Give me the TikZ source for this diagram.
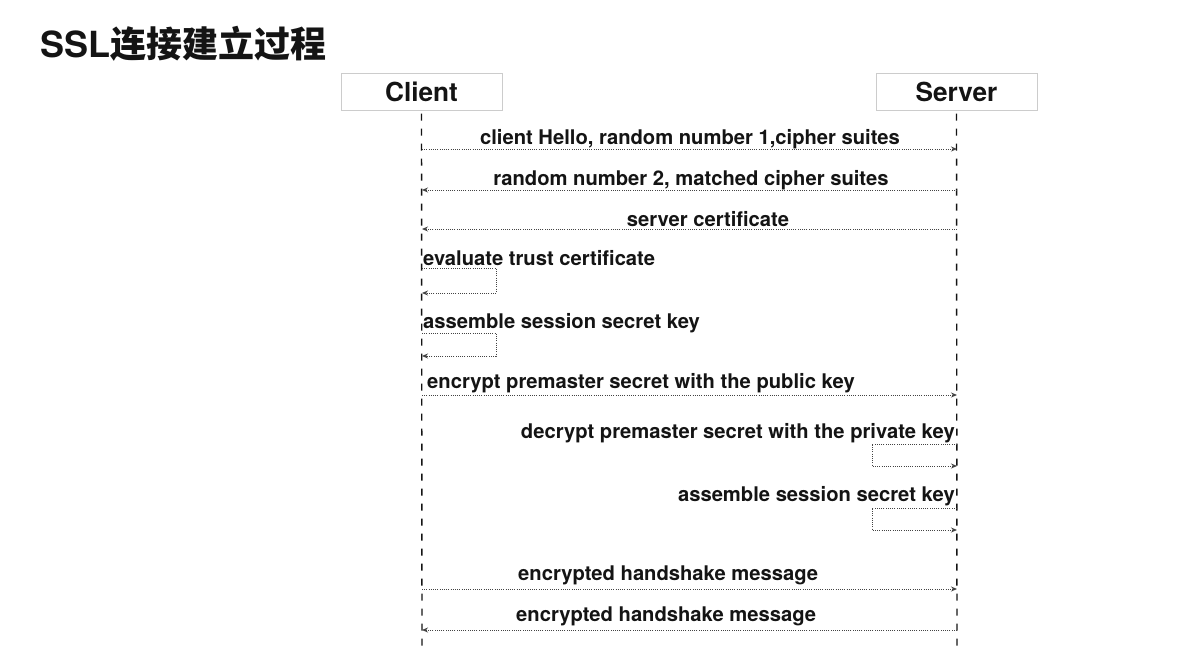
\documentclass[tikz,border=0pt]{standalone}
\usepackage{fontspec}
\setmainfont{TeX Gyre Heros}
\newfontfamily\cjkfont{Noto Sans CJK SC}
\usetikzlibrary{arrows.meta}
\definecolor{ink}{HTML}{141414}
\definecolor{boxline}{HTML}{CCCCCC}
\definecolor{msgline}{HTML}{444444}
\begin{document}
\begin{tikzpicture}[x=1pt,y=-1pt,
  actor/.style={draw=boxline,line width=1pt,minimum width=161pt,minimum height=37pt,
    inner sep=0pt,text=ink,font=\fontsize{26.2}{28}\selectfont\bfseries},
  lifeline/.style={draw=ink,line width=1.4pt,dash pattern=on 7pt off 8pt},
  msg/.style={draw=msgline,line width=0.9pt,dash pattern=on 1pt off 1.2pt,
    -{Stealth[length=6pt,width=5pt]}},
  lbl/.style={text=ink,inner sep=0pt,font=\fontsize{20.2}{22}\selectfont\bfseries}]
\useasboundingbox[fill=white] (0,0) rectangle (1200,656);

% title
\node[anchor=west,inner sep=0pt,text=ink] (title) at (40,44)
  {\fontsize{36}{40}\selectfont\bfseries SSL{\cjkfont\bfseries 连接建立过程}};

% participants
\node[actor] (client) at (421.5,91.5) {Client};
\node[actor] (server) at (956.5,91.5) {Server};

% lifeline ends
\coordinate (cend) at (422,650);
\coordinate (send) at (957,650);
\draw[lifeline] (client.south) ++(0,3) -- (cend);
\draw[lifeline] (server.south) ++(0,3) -- (send);

% message anchor points on the lifelines
\foreach \n/\y in {1/149,2/190,3/229,4a/268,4b/293,5a/333,5b/356,6/395,9/589,10/630}{
  \coordinate (c\n) at (422,\y);
}
\foreach \n/\y in {1/149,2/190,3/229,6/395,7a/444,7b/466,8a/508,8b/530,9/589,10/630}{
  \coordinate (s\n) at (957,\y);
}

% messages
\draw[msg] (c1) -- (s1);
\node[lbl] (l1) at (690,139) {client Hello, random number 1,cipher suites};

\draw[msg] (s2) -- (c2);
\node[lbl] (l2) at (691,180) {random number 2, matched cipher suites};

\draw[msg] (s3) -- (c3);
\node[lbl] (l3) at (708,219) {server certificate};

\draw[msg] (c4a) -| (496,281) |- (c4b);
\node[lbl,anchor=west] (l4) at (423,258) {evaluate trust certificate};

\draw[msg] (c5a) -| (496,344) |- (c5b);
\node[lbl,anchor=west] (l5) at (423,323) {assemble session secret key};

\draw[msg] (c6) -- (s6);
\node[lbl,anchor=west] (l6) at (427,383) {encrypt premaster secret with the public key};

\draw[msg] (s7a) -| (872,455) |- (s7b);
\node[lbl,anchor=east] (l7) at (955,433) {decrypt premaster secret with the private key};

\draw[msg] (s8a) -| (872,519) |- (s8b);
\node[lbl,anchor=east] (l8) at (955,496) {assemble session secret key};

\draw[msg] (c9) -- (s9);
\node[lbl,anchor=west] (l9) at (518,575) {encrypted handshake message};

\draw[msg] (s10) -- (c10);
\node[lbl,anchor=west] (l10) at (516,616) {encrypted handshake message};
\end{tikzpicture}
\end{document}
